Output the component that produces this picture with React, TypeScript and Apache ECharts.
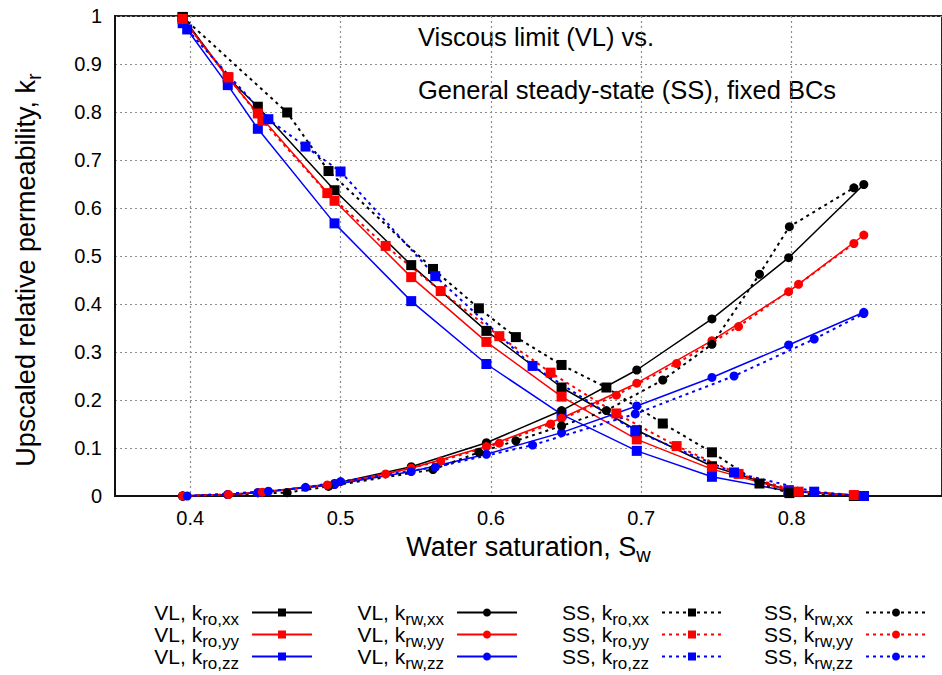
import React, { useEffect, useRef } from "react";
import * as echarts from "echarts";

// ---- Data (water saturation, relative permeability) ----
const vlSw = [0.395, 0.425, 0.445, 0.496, 0.547, 0.597, 0.647, 0.697, 0.747, 0.798, 0.848];
const vlKroXX = [0.998, 0.872, 0.811, 0.637, 0.481, 0.344, 0.226, 0.137, 0.062, 0.012, 0.0];
const vlKroYY = [0.994, 0.872, 0.797, 0.615, 0.456, 0.321, 0.207, 0.118, 0.056, 0.012, 0.0];
const vlKroZZ = [0.985, 0.856, 0.765, 0.568, 0.406, 0.275, 0.17, 0.094, 0.04, 0.01, 0.0];
const vlKrwXX = [0.0, 0.003, 0.007, 0.026, 0.061, 0.111, 0.178, 0.2625, 0.369, 0.4965, 0.649];
const vlKrwYY = [0.0, 0.003, 0.007, 0.024, 0.058, 0.103, 0.162, 0.235, 0.3236, 0.4257, 0.5437];
const vlKrwZZ = [0.0, 0.003, 0.007, 0.024, 0.051, 0.087, 0.132, 0.1875, 0.247, 0.3146, 0.3827];

const ssSwXX = [0.395, 0.4645, 0.492, 0.5615, 0.592, 0.6166, 0.647, 0.6768, 0.7143, 0.747, 0.7786, 0.7985, 0.8414];
const ssKroXX = [0.998, 0.799, 0.677, 0.473, 0.391, 0.331, 0.273, 0.226, 0.151, 0.091, 0.026, 0.006, 0.0];
const ssKrwXX = [0.0, 0.007, 0.02, 0.055, 0.091, 0.115, 0.146, 0.178, 0.2417, 0.316, 0.462, 0.561, 0.642];

const ssSwYY = [0.395, 0.4255, 0.448, 0.4912, 0.53, 0.5666, 0.6056, 0.6397, 0.6834, 0.7235, 0.7647, 0.8046, 0.8414];
const ssKroYY = [0.994, 0.872, 0.782, 0.631, 0.521, 0.427, 0.333, 0.257, 0.172, 0.104, 0.046, 0.009, 0.002];
const ssKrwYY = [0.0, 0.003, 0.008, 0.023, 0.046, 0.073, 0.11, 0.15, 0.21, 0.276, 0.353, 0.441, 0.526];

const ssSwZZ = [0.398, 0.452, 0.4767, 0.5, 0.563, 0.6277, 0.696, 0.7617, 0.815, 0.848];
const ssKroZZ = [0.972, 0.785, 0.728, 0.676, 0.458, 0.271, 0.135, 0.049, 0.009, 0.0];
const ssKrwZZ = [0.0, 0.01, 0.018, 0.03, 0.06, 0.106, 0.171, 0.25, 0.327, 0.38];

const xTickValues = [0.4, 0.5, 0.6, 0.7, 0.8, 0.9];
const xLabelValues = [0.4, 0.5, 0.6, 0.7, 0.8];

const annotationLines = ["Viscous limit (VL) vs.", "General steady-state (SS), fixed BCs"];

const FONT = "'Liberation Sans', Arial, Helvetica, sans-serif";
const BLACK = "#000000";
const RED = "#ff0000";
const BLUE = "#0000ff";

type SeriesDef = {
  name: string;
  pre: string;
  sub: string;
  xs: number[];
  ys: number[];
  color: string;
  symbol: string;
  dotted: boolean;
};

const seriesDefs: SeriesDef[] = [
  { name: "VL kro xx", pre: "VL, k", sub: "ro,xx", xs: vlSw, ys: vlKroXX, color: BLACK, symbol: "rect", dotted: false },
  { name: "VL kro yy", pre: "VL, k", sub: "ro,yy", xs: vlSw, ys: vlKroYY, color: RED, symbol: "rect", dotted: false },
  { name: "VL kro zz", pre: "VL, k", sub: "ro,zz", xs: vlSw, ys: vlKroZZ, color: BLUE, symbol: "rect", dotted: false },
  { name: "VL krw xx", pre: "VL, k", sub: "rw,xx", xs: vlSw, ys: vlKrwXX, color: BLACK, symbol: "circle", dotted: false },
  { name: "VL krw yy", pre: "VL, k", sub: "rw,yy", xs: vlSw, ys: vlKrwYY, color: RED, symbol: "circle", dotted: false },
  { name: "VL krw zz", pre: "VL, k", sub: "rw,zz", xs: vlSw, ys: vlKrwZZ, color: BLUE, symbol: "circle", dotted: false },
  { name: "SS kro xx", pre: "SS, k", sub: "ro,xx", xs: ssSwXX, ys: ssKroXX, color: BLACK, symbol: "rect", dotted: true },
  { name: "SS kro yy", pre: "SS, k", sub: "ro,yy", xs: ssSwYY, ys: ssKroYY, color: RED, symbol: "rect", dotted: true },
  { name: "SS kro zz", pre: "SS, k", sub: "ro,zz", xs: ssSwZZ, ys: ssKroZZ, color: BLUE, symbol: "rect", dotted: true },
  { name: "SS krw xx", pre: "SS, k", sub: "rw,xx", xs: ssSwXX, ys: ssKrwXX, color: BLACK, symbol: "circle", dotted: true },
  { name: "SS krw yy", pre: "SS, k", sub: "rw,yy", xs: ssSwYY, ys: ssKrwYY, color: RED, symbol: "circle", dotted: true },
  { name: "SS krw zz", pre: "SS, k", sub: "rw,zz", xs: ssSwZZ, ys: ssKrwZZ, color: BLUE, symbol: "circle", dotted: true },
];

const legendRich = {
  m: { fontSize: 21, lineHeight: 21, verticalAlign: "top", fontFamily: FONT, color: "#000" },
  s: { fontSize: 17, lineHeight: 16, padding: [9, 8, 0, 0], verticalAlign: "top", fontFamily: FONT, color: "#000" },
};

const axisNameRich = {
  m: { fontSize: 27, lineHeight: 27, verticalAlign: "top", fontFamily: FONT, color: "#000" },
  s: { fontSize: 20, lineHeight: 19, padding: [12, 0, 0, 0], verticalAlign: "top", fontFamily: FONT, color: "#000" },
};

export default function App() {
  const ref = useRef<HTMLDivElement>(null);

  useEffect(() => {
    if (!ref.current) return;
    const chart = echarts.init(ref.current, undefined, { renderer: "svg" });

    const lookup: Record<string, SeriesDef> = {};
    seriesDefs.forEach((d) => (lookup[d.name] = d));

    const legendRights = [629, 424, 219, 15];
    const legends = [0, 1, 2, 3].map((col) => ({
      orient: "vertical",
      align: "right",
      right: legendRights[col],
      top: 602,
      padding: 0,
      itemGap: -4,
      itemWidth: 60,
      itemHeight: 10,
      data: seriesDefs.slice(col * 3, col * 3 + 3).map((d) => d.name),
      formatter: (name: string) => {
        const d = lookup[name];
        return `{m|${d.pre}}{s|${d.sub}}`;
      },
      textStyle: { rich: legendRich, fontFamily: FONT },
      selectedMode: false,
    }));

    const series = seriesDefs.map((d) => ({
      name: d.name,
      type: "line",
      data: d.xs.map((x, i) => [x, d.ys[i]]),
      symbol: d.symbol,
      symbolSize: d.symbol === "rect" ? 10 : 9,
      showSymbol: true,
      color: d.color,
      itemStyle: { color: d.color },
      lineStyle: d.dotted
        ? { color: d.color, width: 2, type: [3, 4] }
        : { color: d.color, width: 1.5, type: "solid" },
      emphasis: { disabled: true },
      clip: true,
    }));

    const gridLine = { show: true, lineStyle: { color: "#8c8c8c", width: 1.2, type: [2, 3] } };

    chart.setOption({
      animation: false,
      backgroundColor: "#ffffff",
      textStyle: { fontFamily: FONT },
      grid: {
        left: 115,
        top: 16,
        width: 832,
        height: 480,
        show: true,
        borderColor: "#222",
        borderWidth: 2,
        backgroundColor: "transparent",
      },
      xAxis: {
        type: "value",
        min: 0.35,
        max: 0.9,
        axisLine: { show: true, lineStyle: { color: "#111", width: 2 } },
        axisTick: { show: false, customValues: xTickValues },
        axisLabel: {
          customValues: xLabelValues,
          fontSize: 20,
          color: "#000",
          margin: 12,
          fontFamily: FONT,
          formatter: (v: number) => v.toFixed(1),
        },
        splitLine: gridLine,
        name: "{m|Water saturation, S}{s|w}",
        nameLocation: "middle",
        nameGap: 37,
        nameTextStyle: { rich: axisNameRich },
      },
      yAxis: {
        type: "value",
        min: 0,
        max: 1,
        interval: 0.1,
        axisLine: { show: true, lineStyle: { color: "#111", width: 2 } },
        axisTick: { show: false },
        axisLabel: { fontSize: 20, color: "#000", margin: 13, fontFamily: FONT },
        splitLine: gridLine,
        name: "{m|Upscaled relative permeability, k}{s|r}",
        nameLocation: "middle",
        nameRotate: 90,
        nameGap: 76,
        nameTextStyle: { rich: axisNameRich, padding: [0, 28, 0, 0] },
      },
      legend: legends,
      graphic: annotationLines.map((t, i) => ({
        type: "text",
        left: 418,
        top: 24 + i * 53,
        style: { text: t, fontSize: 25.5, fontFamily: FONT, fill: "#000" },
      })),
      series,
    });

    return () => chart.dispose();
  }, []);

  return (
    <div
      ref={ref}
      style={{ position: "fixed", left: 0, top: 0, width: 942, height: 675, background: "#fff" }}
    />
  );
}
